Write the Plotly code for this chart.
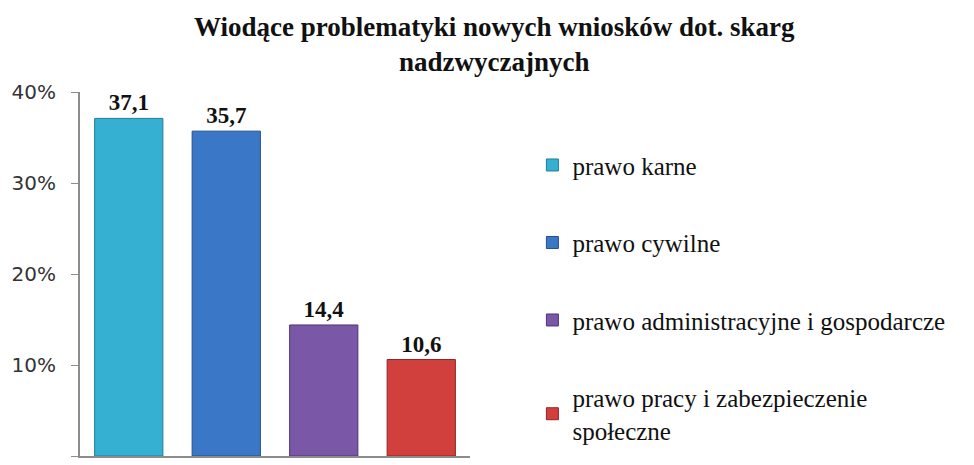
import plotly.graph_objects as go

categories = ["prawo karne", "prawo cywilne", "prawo administracyjne i gospodarcze",
              "prawo pracy i zabezpieczenie<br>społeczne"]
values = [37.1, 35.7, 14.4, 10.6]
colors = ["#35B0D2", "#3A77C6", "#7A58A7", "#D2403D"]
lines = ["#1F7E98", "#24508A", "#4E3576", "#8E2422"]
y_ticks = [0, 10, 20, 30, 40]
y_tick_text = ["0%", "10%", "20%", "30%", "40%"]
title = "<b>Wiodące problematyki nowych wniosków dot. skarg<br>nadzwyczajnych</b>"

SERIF = "Liberation Serif"

fig = go.Figure()
for i, (c, v) in enumerate(zip(categories, values)):
    fig.add_trace(go.Bar(
        x=[c], y=[v], name=c, legendgroup=str(i),
        marker=dict(color=colors[i], line=dict(color=lines[i], width=1)),
        text=[v], texttemplate="<b>%{y:.1f}</b>", textposition="outside",
        textfont=dict(family=SERIF, size=23, color="#111111"),
        cliponaxis=False, width=0.7,
    ))

fig.add_annotation(text=title, xref="paper", yref="paper", x=1.063, y=1.0, xanchor="center",
                   yanchor="bottom", yshift=13, showarrow=False, align="center",
                   font=dict(family=SERIF, size=27, color="#111111"))

fig.update_layout(
    width=966, height=457,
    margin=dict(l=72, r=504, t=84, b=9, autoexpand=False),
    paper_bgcolor="white", plot_bgcolor="white",
    font=dict(family=SERIF, color="#111111"),
    separators=", ",
    barmode="overlay",
    showlegend=True,
    legend=dict(x=1.16, xanchor="left", y=0.862, yanchor="top",
                font=dict(family=SERIF, size=25, color="#111111"),
                tracegroupgap=42, traceorder="grouped", itemwidth=30,
                bgcolor="rgba(0,0,0,0)"),
    xaxis=dict(categoryorder="array", categoryarray=categories, showticklabels=False,
               showline=True, linecolor="#8C8C8C", linewidth=2, ticks="", showgrid=False,
               automargin=False),
    yaxis=dict(range=[0, 40], tickvals=y_ticks, ticktext=y_tick_text, showgrid=False,
               showline=True, linecolor="#8C8C8C", linewidth=2, ticks="outside",
               ticklen=7, tickcolor="#8C8C8C", zeroline=False, automargin=False,
               ticklabelstandoff=11,
               tickfont=dict(family="DejaVu Sans", size=20, color="#333333")),
)

fig.write_html("out.html")
